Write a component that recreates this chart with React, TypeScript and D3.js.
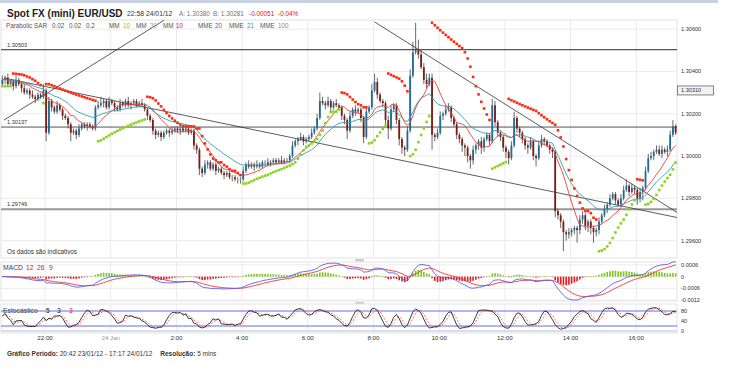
import * as d3 from 'd3';

// EUR/USD 5 min bars, 20:42 23/01/12 - 17:17 24/01/12 (close prices)
const startTime = new Date(2012, 0, 23, 20, 42);
const barMinutes = 5;
const firstOpen = 1.3034;

const closes = [
  1.3036, 1.3037, 1.3034, 1.3035, 1.3033, 1.3036, 1.3034, 1.3032, 1.3030, 1.3031,
  1.3029, 1.3028, 1.3027, 1.3029, 1.3028, 1.3031, 1.3011, 1.3026, 1.3023, 1.3021,
  1.3024, 1.3022, 1.3019, 1.3018, 1.3015, 1.3011, 1.3012, 1.3010, 1.3013, 1.3015,
  1.3014, 1.3015, 1.3014, 1.3013, 1.3023, 1.3024, 1.3025, 1.3026, 1.3023, 1.3026,
  1.3025, 1.3023, 1.3022, 1.3025, 1.3024, 1.3026, 1.3024, 1.3025, 1.3026, 1.3024,
  1.3025, 1.3024, 1.3022, 1.3019, 1.3017, 1.3012, 1.3010, 1.3011, 1.3009, 1.3011,
  1.3012, 1.3011, 1.3012, 1.3013, 1.3012, 1.3013, 1.3012, 1.3013, 1.3011, 1.3012,
  1.3005, 1.3003, 1.2994, 1.2992, 1.2996, 1.2997, 1.2994, 1.2996, 1.2993, 1.2994,
  1.2992, 1.2991, 1.2992, 1.2990, 1.2990, 1.2989, 1.2989, 1.2989, 1.2993, 1.2996,
  1.2995, 1.2996, 1.2995, 1.2996, 1.2995, 1.2997, 1.2997, 1.2996, 1.2997, 1.2998,
  1.2997, 1.2998, 1.2997, 1.2998, 1.2998, 1.3000, 1.3005, 1.3007, 1.3008, 1.3009,
  1.3007, 1.3008, 1.3009, 1.3011, 1.3013, 1.3018, 1.3026, 1.3025, 1.3024, 1.3026,
  1.3023, 1.3025, 1.3024, 1.3023, 1.3019, 1.3017, 1.3012, 1.3019, 1.3022, 1.3021,
  1.3022, 1.3018, 1.3009, 1.3021, 1.3023, 1.3031, 1.3035, 1.3029, 1.3026, 1.3025,
  1.3017, 1.3013, 1.3022, 1.3024, 1.3017, 1.3008, 1.3004, 1.3003, 1.3012, 1.3038,
  1.3049, 1.3050, 1.3048, 1.3042, 1.3036, 1.3034, 1.3037, 1.3010, 1.3009, 1.3011,
  1.3019, 1.3020, 1.3022, 1.3023, 1.3018, 1.3015, 1.3010, 1.3008, 1.3005, 1.3004,
  1.3000, 1.2998, 1.3003, 1.3005, 1.3007, 1.3004, 1.3008, 1.3010, 1.3007, 1.3024,
  1.3016, 1.3011, 1.3009, 1.3004, 1.3002, 1.2999, 1.3005, 1.3018, 1.3013, 1.3011,
  1.3008, 1.3005, 1.3004, 1.3007, 1.3000, 1.2999, 1.3005, 1.3008, 1.3007, 1.3005,
  1.3003, 1.3002, 1.2974, 1.2972, 1.2969, 1.2964, 1.2963, 1.2964, 1.2965, 1.2966,
  1.2965, 1.2970, 1.2972, 1.2967, 1.2969, 1.2966, 1.2964, 1.2965, 1.2969, 1.2972,
  1.2975, 1.2977, 1.2980, 1.2982, 1.2979, 1.2977, 1.2980, 1.2984, 1.2986, 1.2983,
  1.2985, 1.2984, 1.2980, 1.2983, 1.2985, 1.2993, 1.2999, 1.3000, 1.3002, 1.3003,
  1.3001, 1.3003, 1.3002, 1.3003, 1.3010, 1.3014, 1.3011,
];

// upper / lower shadows, in pips
const wickUp = [
  2, 1, 2, 1, 1, 2, 1, 1, 2, 1, 1, 2, 1, 1, 1, 3, 1, 2, 1, 1,
  2, 1, 1, 1, 1, 1, 1, 1, 2, 1, 1, 1, 1, 1, 1, 2, 3, 1, 1, 2,
  1, 1, 1, 2, 1, 1, 2, 1, 1, 1, 1, 2, 1, 1, 1, 1, 1, 1, 1, 1,
  1, 1, 2, 1, 1, 1, 1, 1, 1, 1, 1, 1, 1, 1, 2, 1, 1, 1, 1, 1,
  1, 1, 1, 1, 1, 1, 1, 1, 2, 1, 2, 1, 1, 2, 1, 1, 1, 2, 1, 1,
  1, 1, 2, 1, 1, 1, 2, 1, 1, 2, 1, 1, 1, 2, 1, 2, 4, 2, 1, 2,
  1, 1, 2, 1, 1, 1, 1, 2, 1, 2, 1, 1, 1, 2, 1, 3, 4, 2, 1, 1,
  1, 2, 2, 1, 1, 1, 1, 1, 2, 3, 5, 13, 5, 2, 2, 3, 2, 2, 1, 2,
  2, 1, 2, 2, 1, 1, 1, 1, 1, 1, 1, 1, 2, 1, 1, 2, 1, 1, 1, 3,
  2, 1, 1, 1, 1, 1, 2, 3, 1, 1, 1, 1, 1, 2, 1, 1, 2, 2, 1, 1,
  1, 1, 1, 1, 1, 1, 1, 2, 1, 1, 1, 2, 2, 1, 1, 1, 1, 1, 2, 1,
  2, 1, 2, 1, 1, 1, 2, 2, 3, 1, 2, 1, 1, 2, 1, 2, 2, 2, 1, 2,
  2, 2, 1, 2, 2, 3, 1,
];
const wickDn = [
  1, 2, 1, 1, 2, 1, 1, 2, 1, 1, 2, 1, 2, 1, 1, 1, 4, 1, 2, 1,
  1, 1, 2, 1, 2, 4, 1, 2, 1, 1, 1, 2, 1, 1, 1, 1, 1, 2, 1, 1,
  1, 2, 1, 1, 1, 1, 1, 2, 1, 1, 1, 1, 1, 2, 1, 2, 2, 1, 2, 1,
  1, 2, 1, 1, 1, 2, 1, 1, 1, 1, 2, 2, 3, 2, 1, 2, 1, 1, 2, 1,
  1, 2, 1, 1, 2, 1, 2, 2, 1, 1, 1, 1, 2, 1, 1, 1, 2, 1, 1, 1,
  1, 1, 1, 1, 1, 1, 1, 1, 2, 1, 2, 1, 1, 1, 1, 1, 1, 1, 2, 1,
  2, 1, 1, 1, 2, 2, 4, 1, 1, 2, 1, 2, 3, 1, 1, 1, 1, 2, 1, 2,
  2, 5, 1, 1, 2, 3, 3, 3, 1, 1, 1, 1, 2, 1, 2, 2, 1, 7, 2, 1,
  1, 2, 1, 1, 2, 1, 2, 2, 3, 4, 3, 4, 2, 2, 2, 3, 2, 1, 2, 1,
  2, 2, 2, 2, 3, 3, 1, 1, 2, 2, 2, 2, 3, 1, 2, 4, 1, 1, 2, 1,
  2, 3, 3, 2, 3, 9, 3, 2, 2, 2, 6, 2, 2, 2, 3, 3, 5, 2, 2, 1,
  1, 2, 1, 1, 2, 1, 1, 1, 1, 2, 1, 2, 3, 2, 4, 1, 1, 1, 2, 1,
  1, 2, 1, 2, 1, 1, 1,
];

const priceTicks = [1.296, 1.298, 1.3, 1.302, 1.304, 1.306];
const levelLines = [1.30503, 1.30137, 1.29749];
const lastLabel = 1.3031;
const macdTicks = [0.0006, 0, -0.0006, -0.0012];
const stochTicks = [80, 40, 0];
const stochBands = [80, 20];

// hand drawn trend lines: [time, price] -> [time, price]
const trendLines: [Date, number, Date, number][] = [
  [new Date(2012, 0, 23, 20, 45), 1.3017, new Date(2012, 0, 24, 1, 38), 1.30643],
  [new Date(2012, 0, 23, 20, 45), 1.30369, new Date(2012, 0, 24, 17, 19), 1.29707],
  [new Date(2012, 0, 24, 8, 2), 1.30634, new Date(2012, 0, 24, 17, 19), 1.29726],
];

const FONT = '"Liberation Sans", Arial, sans-serif';
const plotL = 1;
const plotR = 677;
const main = { top: 20, bottom: 258 };
const macdBox = { top: 262, bottom: 301 };
const stochBox = { top: 304, bottom: 333 };

function ema(values: number[], n: number) {
  const k = 2 / (n + 1);
  const out: number[] = [];
  values.forEach((v, i) => out.push(i === 0 ? v : out[i - 1] + k * (v - out[i - 1])));
  return out;
}
function sma(values: number[], n: number) {
  return values.map((_, i) => d3.mean(values.slice(Math.max(0, i - n + 1), i + 1)) as number);
}

export default function App() {
  const opens = closes.map((_, i) => (i === 0 ? firstOpen : closes[i - 1]));
  const highs = closes.map((c, i) => Math.max(c, opens[i]) + wickUp[i] * 0.0001);
  const lows = closes.map((c, i) => Math.min(c, opens[i]) - wickDn[i] * 0.0001);
  const times = closes.map((_, i) => d3.timeMinute.offset(startTime, i * barMinutes));

  const x = d3.scaleTime()
    .domain([d3.timeSecond.offset(times[0], -150), d3.timeSecond.offset(times[times.length - 1], 150)])
    .range([plotL, plotR]);
  const y = d3.scaleLinear().domain([1.29518, 1.30643]).range([main.bottom, main.top]);
  const ym = d3.scaleLinear().domain([-0.00125, 0.00075]).range([macdBox.bottom, macdBox.top]);
  const ys = d3.scaleLinear().domain([0, 100]).range([331, 306]);

  // indicators
  const mm10 = sma(closes, 10);
  const mme21 = ema(closes, 21);
  const e12 = ema(closes, 12);
  const e26 = ema(closes, 26);
  const macd = e12.map((v, i) => v - e26[i]);
  const signal = ema(macd, 9);
  const hist = macd.map((v, i) => v - signal[i]);

  const rawK = closes.map((c, i) => {
    const hh = d3.max(highs.slice(Math.max(0, i - 4), i + 1)) as number;
    const ll = d3.min(lows.slice(Math.max(0, i - 4), i + 1)) as number;
    return hh === ll ? 50 : (100 * (c - ll)) / (hh - ll);
  });
  const slowK = sma(rawK, 3);
  const slowD = sma(slowK, 3);

  // parabolic SAR 0.02 / 0.2
  const sar: { v: number; up: boolean }[] = [];
  let up = true, af = 0.02, ep = highs[0], s = lows[0];
  sar.push({ v: s, up });
  for (let i = 1; i < closes.length; i++) {
    s = s + af * (ep - s);
    if (up) {
      s = Math.min(s, lows[i - 1], lows[Math.max(0, i - 2)]);
      if (lows[i] < s) { up = false; s = ep; ep = lows[i]; af = 0.02; }
      else if (highs[i] > ep) { ep = highs[i]; af = Math.min(af + 0.02, 0.2); }
    } else {
      s = Math.max(s, highs[i - 1], highs[Math.max(0, i - 2)]);
      if (highs[i] > s) { up = true; s = ep; ep = highs[i]; af = 0.02; }
      else if (lows[i] < ep) { ep = lows[i]; af = Math.min(af + 0.02, 0.2); }
    }
    sar.push({ v: s, up });
  }

  const priceLine = d3.line<number>().x((_, i) => x(times[i])).y(d => y(d));
  const macdLine = d3.line<number>().x((_, i) => x(times[i])).y(d => ym(d));
  const stochLine = d3.line<number>().x((_, i) => x(times[i])).y(d => ys(d));

  const hourTicks = d3.timeHour.every(2)!.range(new Date(2012, 0, 23, 21, 0), times[times.length - 1]);
  const tickLabel = (d: Date) => (d.getHours() === 0 ? '24 Jan' : `${d.getHours()}:00`);

  const bw = 1.8;
  const grid = '#ebebeb';
  const txt = { fontFamily: FONT };

  return (
    <svg width={740} height={372} style={{ position: 'absolute', left: 0, top: 0, background: '#fff' }}>
      <defs>
        <clipPath id="mainClip"><rect x={plotL} y={main.top} width={plotR - plotL} height={main.bottom - main.top} /></clipPath>
      </defs>
      <rect x={0} y={0} width={718} height={3} fill="#c9d2e2" />

      {/* header */}
      <g style={txt}>
        <text x={7} y={16.5} fontSize={10} fontWeight="bold" fill="#222">Spot FX (mini) EUR/USD</text>
        <text x={127} y={15.5} fontSize={6.8} fill="#333">22:58 24/01/12</text>
        <text x={179} y={15.5} fontSize={6.4} fill="#777">A: 1.30380</text>
        <text x={213} y={15.5} fontSize={6.4} fill="#777">B: 1.30281</text>
        <text x={249} y={15.5} fontSize={6.4} fill="#e02020">-0.00051</text>
        <text x={278} y={15.5} fontSize={6.4} fill="#e02020">-0.04%</text>
      </g>

      {/* main panel */}
      <rect x={plotL} y={main.top} width={plotR - plotL} height={main.bottom - main.top} fill="#fff" stroke="#e2e2e2" />
      {priceTicks.map(p => (
        <line key={p} x1={plotL} x2={plotR} y1={y(p)} y2={y(p)} stroke={grid} />
      ))}
      {hourTicks.map(t => (
        <line key={+t} x1={x(t)} x2={x(t)} y1={main.top} y2={main.bottom} stroke={grid} />
      ))}
      <g clipPath="url(#mainClip)">
        {levelLines.map((p, i) => (
          <line key={p} x1={plotL} x2={plotR} y1={y(p)} y2={y(p)}
            stroke={i === 2 ? '#999' : '#555'} strokeWidth={i === 2 ? 2 : i === 0 ? 1.4 : 1} />
        ))}
        {trendLines.map((l, i) => (
          <line key={i} x1={x(l[0])} y1={y(l[1])} x2={x(l[2])} y2={y(l[3])} stroke="#333" strokeWidth={0.8} />
        ))}
        {closes.map((c, i) => {
          const o = opens[i];
          const cx = x(times[i]);
          const col = c > o ? '#1b6c98' : c < o ? '#7d1c14' : '#aaa';
          return (
            <g key={i}>
              <line x1={cx} x2={cx} y1={y(highs[i])} y2={y(lows[i])} stroke="#444" strokeWidth={0.8} />
              <rect x={cx - bw / 2} width={bw} y={y(Math.max(o, c))}
                height={Math.max(1, Math.abs(y(o) - y(c)))} fill={col} />
            </g>
          );
        })}
        <path d={priceLine(mme21) ?? ''} fill="none" stroke="#2b9fb3" strokeWidth={0.9} />
        <path d={priceLine(mm10) ?? ''} fill="none" stroke="#e8413a" strokeWidth={0.9} />
        {sar.map((d, i) => (
          <rect key={i} x={x(times[i]) - 1.3} y={y(d.v) - 1.3} width={2.6} height={2.6}
            fill={d.up ? '#8bd41f' : '#ff2a10'} />
        ))}
      </g>
      <g style={txt} fontSize={6.3} fill="#555">
        <text x={6} y={28}>Parabolic SAR</text>
        <text x={52} y={28}>0.02</text>
        <text x={69} y={28}>0.02</text>
        <text x={86} y={28}>0.2</text>
        <text x={109} y={28}>MM</text>
        <text x={123} y={28} fill="#7ccc1a">10</text>
        <text x={136} y={28}>MM</text>
        <text x={150} y={28} fill="#999">30</text>
        <text x={163} y={28}>MM</text>
        <text x={176} y={28} fill="#e02020">10</text>
        <text x={198} y={28}>MME</text>
        <text x={215} y={28} fill="#d0209a">20</text>
        <text x={229} y={28}>MME</text>
        <text x={247} y={28} fill="#1a9aaa">21</text>
        <text x={260} y={28}>MME</text>
        <text x={278} y={28} fill="#a08830">100</text>
      </g>
      <g style={txt} fontSize={5.6} fill="#333">
        {levelLines.map(p => (
          <text key={p} x={7} y={y(p) - 3}>{p.toFixed(5)}</text>
        ))}
        {priceTicks.map(p => (
          <text key={p} x={681} y={y(p) + 2}>{p.toFixed(5)}</text>
        ))}
        <rect x={677.5} y={y(lastLabel) - 4.5} width={36} height={9} fill="#f2f2f2" stroke="#666" strokeWidth={0.8} />
        <text x={681} y={y(lastLabel) + 2}>{lastLabel.toFixed(5)}</text>
      </g>
      <text x={7} y={254} style={txt} fontSize={6.3} fill="#333">Os dados são indicativos</text>

      {/* MACD panel */}
      <rect x={355} y={259} width={9} height={2.5} rx={1} fill="#ccc" />
      <rect x={plotL} y={macdBox.top} width={plotR - plotL} height={macdBox.bottom - macdBox.top} fill="#fff" stroke="#e2e2e2" />
      {macdTicks.map(v => (
        <line key={v} x1={plotL} x2={plotR} y1={ym(v)} y2={ym(v)} stroke={grid} />
      ))}
      {hourTicks.map(t => (
        <line key={+t} x1={x(t)} x2={x(t)} y1={macdBox.top} y2={macdBox.bottom} stroke={grid} />
      ))}
      {hist.map((h, i) => (
        <rect key={i} x={x(times[i]) - 0.8} width={1.6} y={Math.min(ym(h), ym(0))}
          height={Math.max(0.6, Math.abs(ym(h) - ym(0)))} fill={h >= 0 ? '#7cc51c' : '#e3191c'} />
      ))}
      <path d={macdLine(signal) ?? ''} fill="none" stroke="#e83a3a" strokeWidth={0.9} />
      <path d={macdLine(macd) ?? ''} fill="none" stroke="#5c5cf2" strokeWidth={0.9} />
      <g style={txt} fontSize={6.8}>
        <text x={3} y={269.5} fill="#444">MACD</text>
        <text x={26} y={269.5} fill="#e02020">12</text>
        <text x={37} y={269.5} fill="#e02020">26</text>
        <text x={49} y={269.5} fill="#e02020">9</text>
      </g>
      <g style={txt} fontSize={5.6} fill="#333">
        {macdTicks.map(v => (
          <text key={v} x={681} y={ym(v) + 2}>{v === 0 ? '0' : v.toFixed(4)}</text>
        ))}
      </g>

      {/* stochastic panel */}
      <rect x={355} y={302} width={9} height={2.5} rx={1} fill="#ccc" />
      <rect x={plotL} y={stochBox.top} width={plotR - plotL} height={stochBox.bottom - stochBox.top} fill="#fff" stroke="#e2e2e2" />
      {hourTicks.map(t => (
        <line key={+t} x1={x(t)} x2={x(t)} y1={stochBox.top} y2={stochBox.bottom} stroke={grid} />
      ))}
      <line x1={plotL} x2={plotR} y1={ys(0)} y2={ys(0)} stroke="#c8d4e6" strokeWidth={1.5} />
      {stochBands.map(v => (
        <line key={v} x1={plotL} x2={plotR} y1={ys(v)} y2={ys(v)} stroke="#6b6bea" strokeWidth={1} />
      ))}
      <path d={stochLine(slowD) ?? ''} fill="none" stroke="#ff5a5a" strokeWidth={0.9} strokeDasharray="2,1.5" />
      <path d={stochLine(slowK) ?? ''} fill="none" stroke="#222" strokeWidth={0.9} />
      <g style={txt} fontSize={6.8}>
        <text x={3} y={313} fill="#444">Estocástico</text>
        <text x={46} y={313} fill="#222">5</text>
        <text x={57} y={313} fill="#222">3</text>
        <text x={69} y={313} fill="#e02020">3</text>
      </g>
      <g style={txt} fontSize={5.6} fill="#333">
        {stochTicks.map(v => (
          <text key={v} x={681} y={ys(v) + 2}>{v}</text>
        ))}
      </g>

      {/* time axis */}
      <g style={txt} fontSize={6.2} textAnchor="middle">
        {hourTicks.map(t => (
          <text key={+t} x={x(t)} y={340} fill={t.getHours() === 0 ? '#999' : '#333'}>{tickLabel(t)}</text>
        ))}
      </g>

      <g style={txt} fontSize={6.5} fill="#333">
        <text x={7} y={356}>
          <tspan fontWeight="bold">Gráfico Período:</tspan>
          <tspan> 20:42 23/01/12 - 17:17 24/01/12</tspan>
          <tspan dx={8} fontWeight="bold">Resolução:</tspan>
          <tspan> 5 mins</tspan>
        </text>
      </g>
    </svg>
  );
}
